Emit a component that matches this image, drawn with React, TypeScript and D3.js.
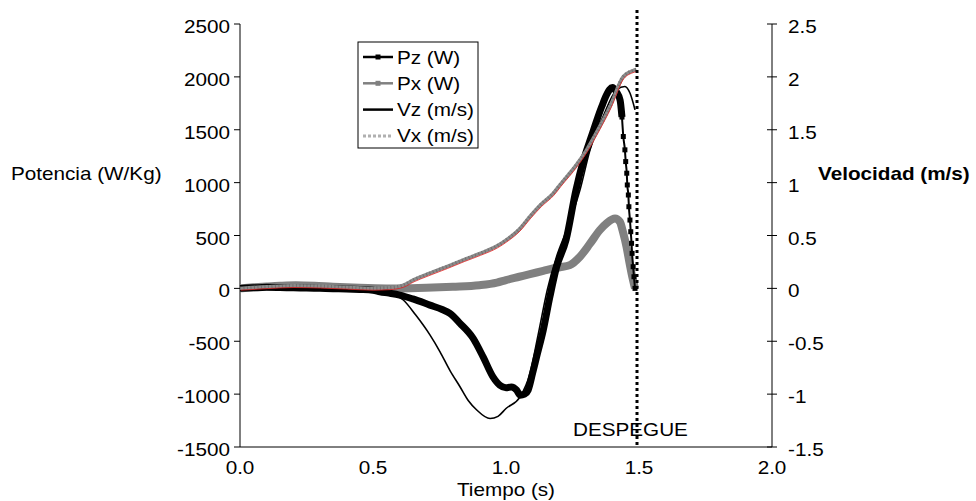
import React from "react";
import * as d3 from "d3";

// ---- Data ----
const pzT = [0, 0.05, 0.1, 0.15, 0.2, 0.25, 0.3, 0.35, 0.4, 0.45, 0.5, 0.526, 0.56, 0.6, 0.65, 0.714, 0.76, 0.789, 0.827, 0.876, 0.914, 0.951, 0.977, 1.0, 1.02, 1.04, 1.053, 1.07, 1.083, 1.1, 1.115, 1.14, 1.165, 1.19, 1.226, 1.263, 1.29, 1.32, 1.36, 1.38, 1.40, 1.415, 1.429, 1.436, 1.441, 1.447, 1.450, 1.454, 1.456, 1.460, 1.462, 1.466, 1.469, 1.472, 1.474, 1.478, 1.481, 1.485];
const pzP = [0, 5, 10, 8, 5, 3, 0, -3, -5, -10, -18, -32, -45, -63, -100, -158, -200, -237, -331, -471, -648, -837, -916, -940, -932, -963, -1010, -1000, -963, -802, -648, -395, -80, 200, 460, 930, 1200, 1430, 1720, 1840, 1900, 1860, 1780, 1620, 1436, 1310, 1199, 1089, 978, 883, 772, 646, 536, 426, 331, 205, 110, 0];

const pxT = [0, 0.05, 0.1, 0.15, 0.21, 0.28, 0.35, 0.45, 0.55, 0.6, 0.7, 0.8, 0.9, 0.966, 1.0, 1.05, 1.09, 1.14, 1.18, 1.203, 1.24, 1.278, 1.315, 1.353, 1.38, 1.41, 1.428, 1.44, 1.453, 1.465, 1.472, 1.485];
const pxP = [0, 10, 18, 25, 30, 25, 15, 5, 0, 0, 5, 15, 30, 55, 79, 110, 135, 165, 190, 200, 220, 300, 420, 552, 620, 660, 630, 530, 394, 230, 142, 0];

const vzT = [0, 0.1, 0.2, 0.3, 0.4, 0.5, 0.56, 0.614, 0.66, 0.714, 0.752, 0.79, 0.827, 0.858, 0.89, 0.94, 0.97, 1.0, 1.053, 1.09, 1.12, 1.155, 1.19, 1.228, 1.278, 1.316, 1.365, 1.416, 1.447, 1.466, 1.485];
const vzV = [0, 0.01, 0.015, 0.01, 0, -0.02, -0.04, -0.11, -0.25, -0.44, -0.6, -0.78, -0.93, -1.06, -1.15, -1.231, -1.21, -1.136, -1.026, -0.805, -0.45, -0.016, 0.3, 0.552, 0.93, 1.31, 1.625, 1.878, 1.909, 1.847, 1.688];

const vxT = [0, 0.1, 0.2, 0.3, 0.4, 0.5, 0.56, 0.614, 0.652, 0.7, 0.777, 0.84, 0.902, 0.965, 1.0, 1.05, 1.09, 1.13, 1.178, 1.203, 1.265, 1.303, 1.35, 1.391, 1.44, 1.478, 1.49];
const vxV = [0, 0.015, 0.025, 0.02, 0.01, 0, 0.005, 0.03, 0.08, 0.13, 0.205, 0.27, 0.33, 0.4, 0.457, 0.56, 0.68, 0.79, 0.9, 0.98, 1.17, 1.31, 1.52, 1.72, 2.0, 2.06, 2.07];

const leftTicks = [2500, 2000, 1500, 1000, 500, 0, -500, -1000, -1500];
const rightTicks = [2.5, 2, 1.5, 1, 0.5, 0, -0.5, -1, -1.5];
const xTicks = [0, 0.5, 1.0, 1.5, 2.0];
const takeoffT = 1.4925;
const legendLabels = ["Pz (W)", "Px (W)", "Vz (m/s)", "Vx (m/s)"];

const FONT = "'Liberation Sans', Arial, Helvetica, sans-serif";
const FS = 18;
const SX = 1.15;

function T({ x, y, anchor = "start", bold = false, children }: any) {
  return (
    <text
      transform={`translate(${x},${y}) scale(${SX},1)`}
      textAnchor={anchor}
      fontFamily={FONT}
      fontSize={FS}
      fontWeight={bold ? "bold" : "normal"}
      fill="#000"
    >
      {children}
    </text>
  );
}

export default function App() {
  const W = 976, H = 501;
  const x = d3.scaleLinear().domain([0, 2]).range([240, 772]);
  const yL = d3.scaleLinear().domain([-1500, 2500]).range([447, 24]);
  const yR = d3.scaleLinear().domain([-1.5, 2.5]).range([447, 24]);

  const mk = (ts: number[], vs: number[], y: any) =>
    d3.line<number>().x((_, i) => x(ts[i])).y((v) => y(v)).curve(d3.curveMonotoneX)(vs) as string;

  const dropStart = pzT.findIndex((t) => t >= 1.436);
  const pzBandT = pzT.slice(0, dropStart + 1);
  const pzBandP = pzP.slice(0, dropStart + 1);
  const pzDropT = pzT.slice(dropStart);
  const pzDropP = pzP.slice(dropStart);

  const pzBand = mk(pzBandT, pzBandP, yL);
  const pzDrop = mk(pzDropT, pzDropP, yL);
  const pxPath = mk(pxT, pxP, yL);
  const vzPath = mk(vzT, vzV, yR);
  const vxPath = mk(vxT, vxV, yR);

  const xa = x(takeoffT);

  return (
    <svg width={W} height={H} style={{ position: "absolute", left: 0, top: 0, background: "#fff" }}>
      <rect x={0} y={0} width={W} height={H} fill="#fff" />
      {/* axes */}
      <line x1={240} y1={yL(2500)} x2={240} y2={yL(-1500)} stroke="#000" strokeWidth={1} />
      <line x1={772} y1={yR(2.5)} x2={772} y2={yR(-1.5)} stroke="#000" strokeWidth={1} />
      <line x1={x(0)} y1={447} x2={x(2)} y2={447} stroke="#000" strokeWidth={1} />
      {leftTicks.map((v) => (
        <g key={"l" + v}>
          <line x1={234} x2={240} y1={yL(v)} y2={yL(v)} stroke="#000" />
          <T x={230} y={yL(v) + 9} anchor="end">{String(v)}</T>
        </g>
      ))}
      {rightTicks.map((v) => (
        <g key={"r" + v}>
          <line x1={767} x2={777} y1={yR(v)} y2={yR(v)} stroke="#000" />
          <T x={788} y={yR(v) + 9}>{String(v)}</T>
        </g>
      ))}
      {xTicks.map((v) => (
        <T key={"x" + v} x={x(v)} y={474} anchor="middle">{v.toFixed(1)}</T>
      ))}
      <T x={x(1.0)} y={496} anchor="middle">Tiempo (s)</T>
      <T x={11} y={180}>Potencia (W/Kg)</T>
      <T x={818} y={180} bold>Velocidad (m/s)</T>

      {/* series */}
      <path d={pxPath} fill="none" stroke="#808080" strokeWidth={8} strokeLinejoin="round" />
      <path d={pzBand} fill="none" stroke="#000" strokeWidth={7} strokeLinejoin="round" />
      <path d={pzDrop} fill="none" stroke="#000" strokeWidth={2} />
      {pzDropT.map((t, i) => (
        <rect key={"m" + i} x={x(t) - 2.5} y={yL(pzDropP[i]) - 2.5} width={5} height={5} fill="#000" />
      ))}
      <path d={vzPath} fill="none" stroke="#000" strokeWidth={1.6} />
      <path d={vxPath} fill="none" stroke="#8c8c8c" strokeWidth={3.5} />
      <path d={vxPath} fill="none" stroke="#555" strokeWidth={3.5} strokeDasharray="1,2.5" opacity={0.5} />
      <path d={vxPath} fill="none" stroke="#e02020" strokeWidth={0.8} transform="translate(0.8,1.8)" />

      {/* takeoff line */}
      <line x1={xa} x2={xa} y1={10} y2={447} stroke="#000" strokeWidth={3} strokeDasharray="3,3" />
      <T x={573} y={436}>DESPEGUE</T>

      {/* legend */}
      <rect x={358} y={42} width={120} height={106} fill="#fff" stroke="#000" strokeWidth={1} />
      {legendLabels.map((lab, i) => {
        const cy = 57 + i * 26.3;
        return (
          <g key={lab}>
            {i === 0 && (
              <>
                <line x1={363} x2={393} y1={cy} y2={cy} stroke="#000" strokeWidth={2.5} />
                <rect x={375.5} y={cy - 2.5} width={5} height={5} fill="#000" />
              </>
            )}
            {i === 1 && (
              <>
                <line x1={363} x2={393} y1={cy} y2={cy} stroke="#808080" strokeWidth={2.5} />
                <rect x={375.5} y={cy - 2.5} width={5} height={5} fill="#808080" />
              </>
            )}
            {i === 2 && <line x1={363} x2={393} y1={cy} y2={cy} stroke="#000" strokeWidth={2.5} />}
            {i === 3 && (
              <line x1={363} x2={393} y1={cy} y2={cy} stroke="#b0b0b0" strokeWidth={3} strokeDasharray="3,2" />
            )}
            <T x={397} y={cy + 6.5}>{lab}</T>
          </g>
        );
      })}
    </svg>
  );
}
